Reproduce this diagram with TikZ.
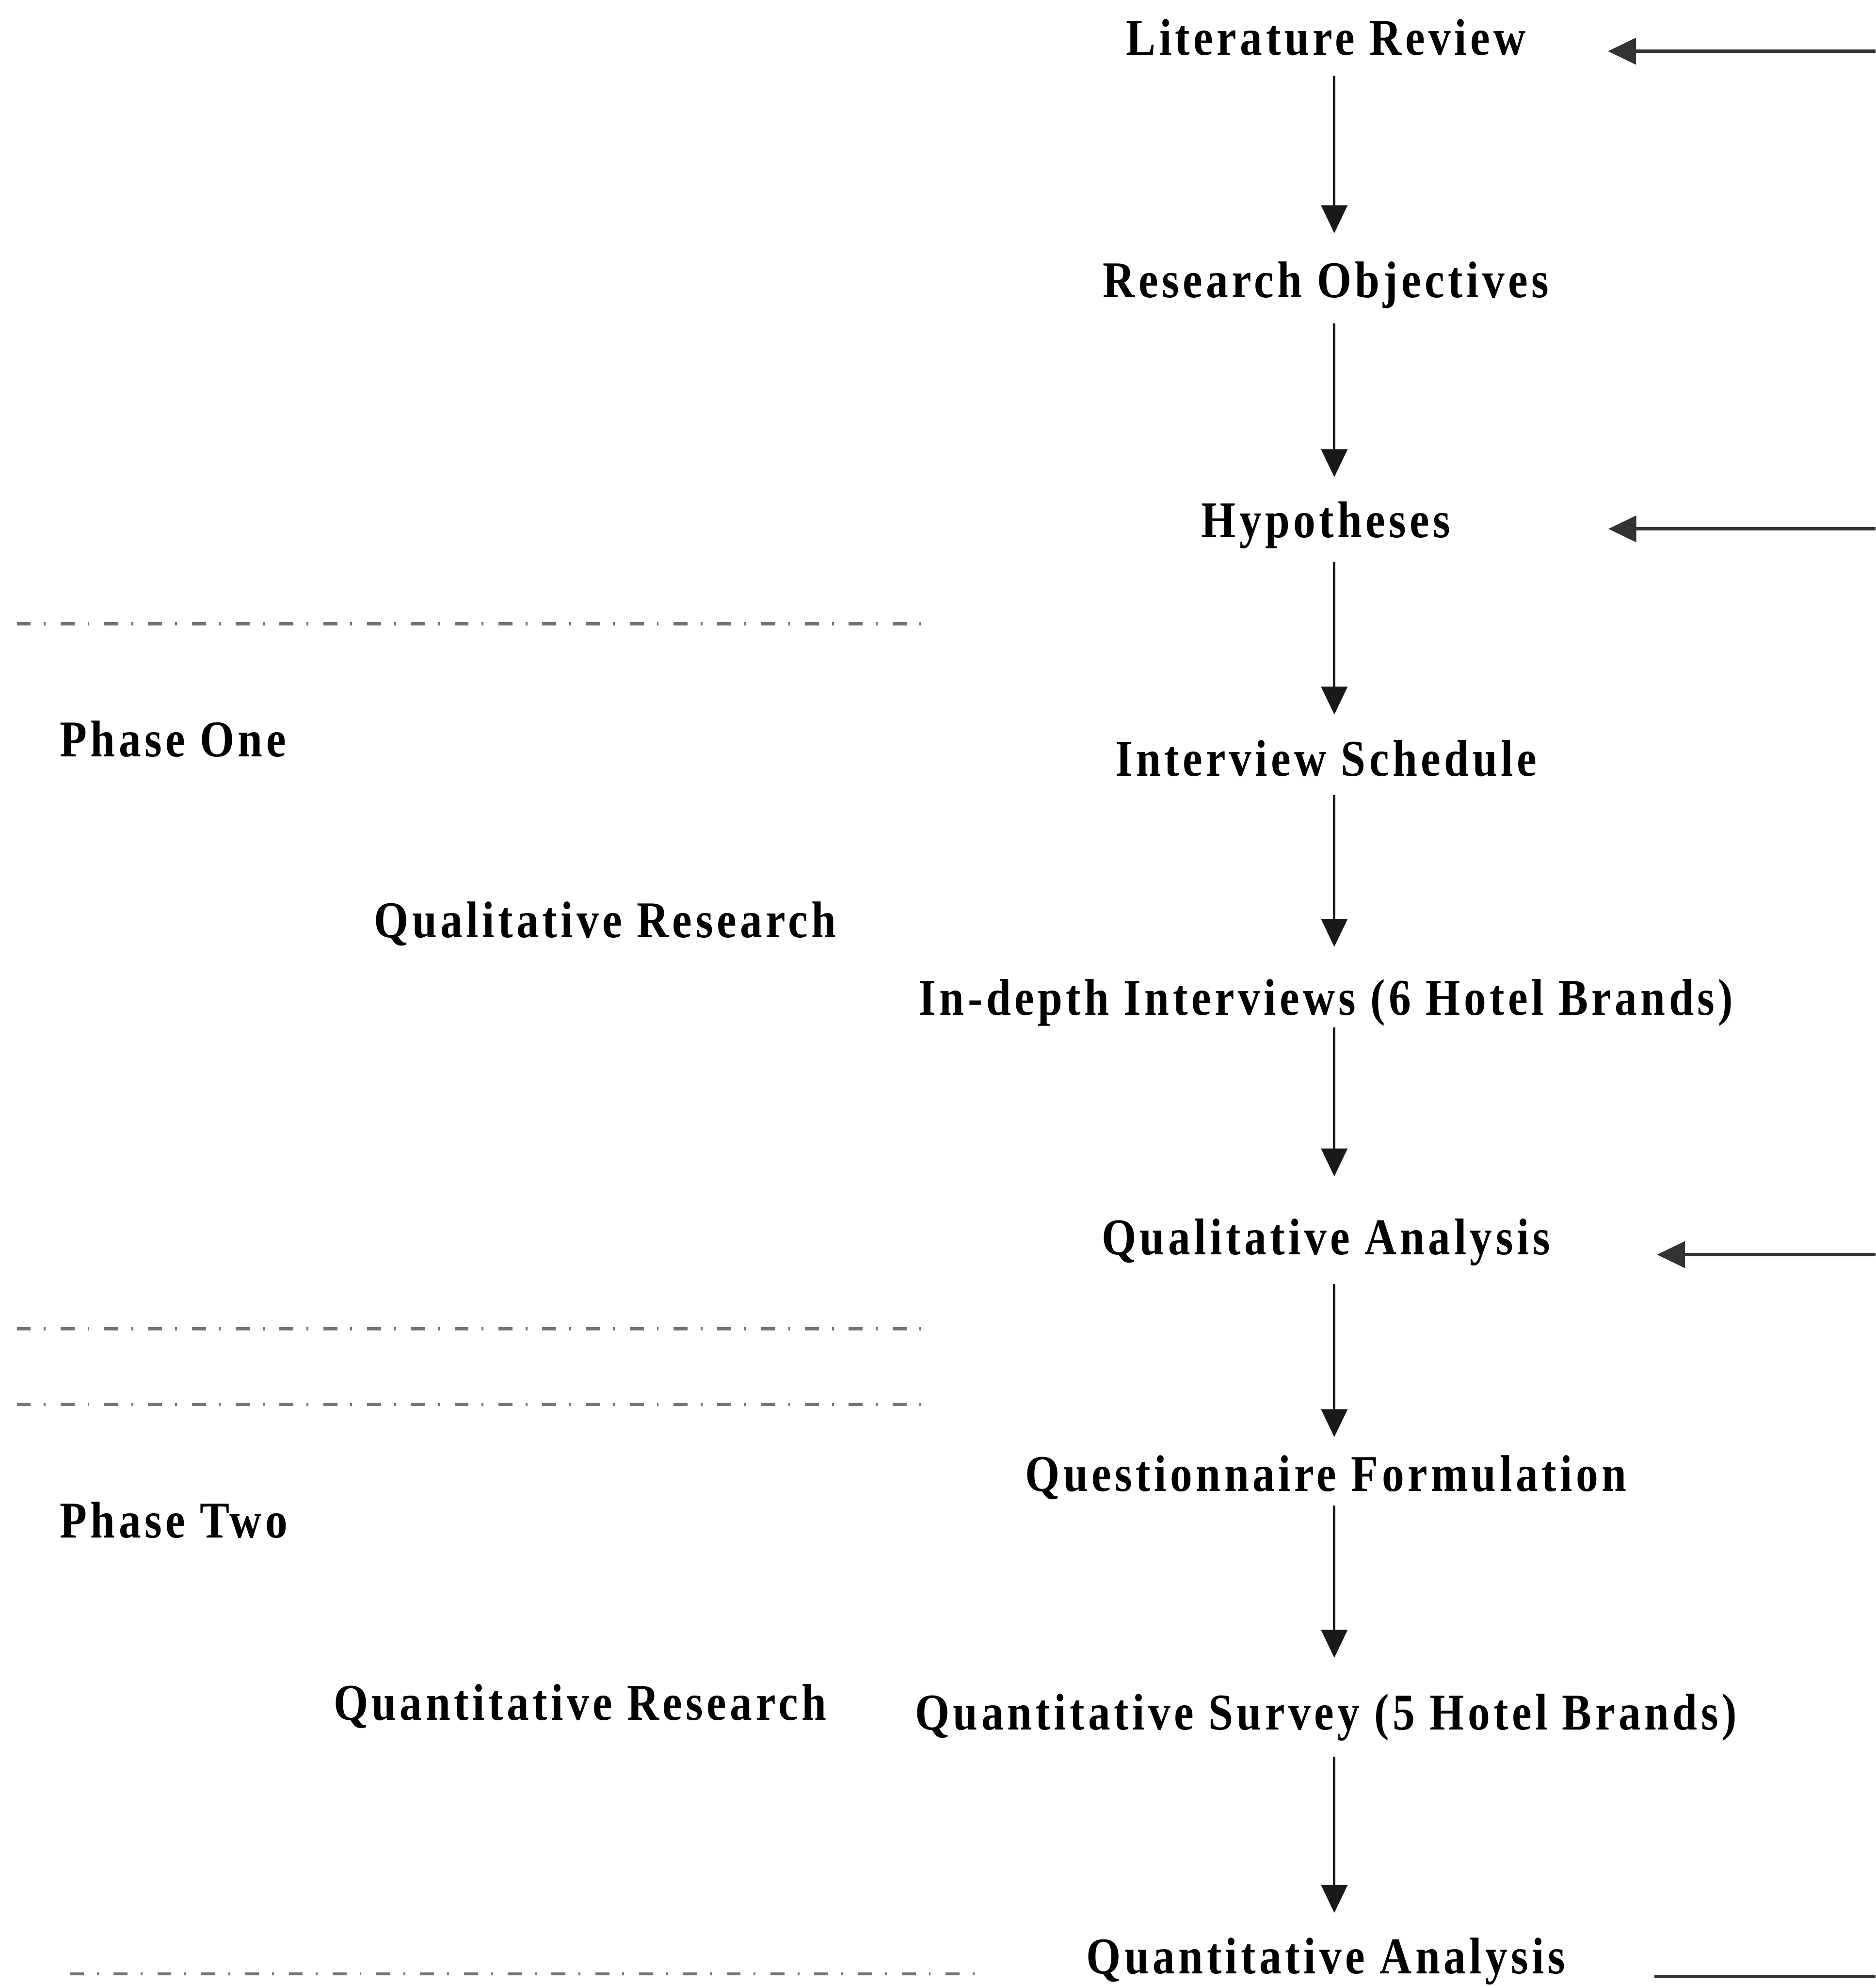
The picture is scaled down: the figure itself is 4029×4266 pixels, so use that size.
\documentclass[tikz,border=0pt]{standalone}
\usepackage{fontspec}
\setmainfont{Liberation Serif}[FakeStretch=0.86, LetterSpace=7]
\usetikzlibrary{arrows.meta}
\begin{document}
\begin{tikzpicture}[x=0.01cm, y=-0.01cm,
  txt/.style={font=\bfseries\fontsize{31.5}{36}\selectfont, inner sep=0pt,
              text height=22pt, text depth=7pt},
  stage/.style={txt, anchor=base},
  sidelabel/.style={txt, anchor=base west},
  tip/.style={-{Triangle[length=0.6cm, width=0.56cm]}},
  flow/.style={tip, draw=black!90, line width=1.4pt},
  feed/.style={draw=black!80, line width=2pt},
  divider/.style={draw=black!55, line width=2pt,
                  dash pattern=on 0.3cm off 0.28cm on 0.04cm off 0.32cm}]

\useasboundingbox (0,0) rectangle (4029,4266);

% main sequence of research stages
\node[stage] (lit)  at (2848,118)  {Literature Review};
\node[stage] (obj)  at (2848,639)  {Research Objectives};
\node[stage] (hyp)  at (2848,1154) {Hypotheses};
\node[stage] (sch)  at (2848,1667) {Interview Schedule};
\node[stage] (idi)  at (2848,2180) {In-depth Interviews (6 Hotel Brands)};
\node[stage] (qla)  at (2848,2695) {Qualitative Analysis};
\node[stage] (qfm)  at (2848,3203) {Questionnaire Formulation};
\node[stage] (qsv)  at (2848,3715) {Quantitative Survey (5 Hotel Brands)};
\node[stage] (qna)  at (2848,4239) {Quantitative Analysis};

% phase labels on the left
\node[sidelabel] (p1)  at (128,1625) {Phase One};
\node[sidelabel] (qlr) at (803,2014) {Qualitative Research};
\node[sidelabel] (p2)  at (128,3303) {Phase Two};
\node[sidelabel] (qnr) at (716,3695) {Quantitative Research};

% vertical axis of the flow arrows
\coordinate (ax) at (2866,0);

\draw[flow, shorten <=0.19cm, shorten >=0.60cm] (lit.south -| ax) -- (obj.north -| ax);
\draw[flow, shorten <=0.30cm, shorten >=0.51cm] (obj.south -| ax) -- (hyp.north -| ax);
\draw[flow, shorten <=0.28cm, shorten >=0.54cm] (hyp.south -| ax) -- (sch.north -| ax);
\draw[flow, shorten <=0.16cm, shorten >=0.68cm] (sch.south -| ax) -- (idi.north -| ax);
\draw[flow, shorten <=0.02cm, shorten >=0.90cm] (idi.south -| ax) -- (qla.north -| ax);
\draw[flow, shorten <=0.38cm, shorten >=0.38cm] (qla.south -| ax) -- (qfm.north -| ax);
\draw[flow, shorten <=0.05cm, shorten >=0.76cm] (qfm.south -| ax) -- (qsv.north -| ax);
\draw[flow, shorten <=0.33cm, shorten >=0.52cm] (qsv.south -| ax) -- (qna.north -| ax);

% feedback lines entering from the right edge
\coordinate (r1) at (4029,110);
\coordinate (r2) at (4029,1136);
\coordinate (r3) at (4029,2695);
\coordinate (r4) at (4029,4246);
\draw[feed, tip, shorten >=1.76cm] (r1) -- (r1 -| lit.east);
\draw[feed, tip, shorten >=3.38cm] (r2) -- (r2 -| hyp.east);
\draw[feed, tip, shorten >=2.29cm] (r3) -- (r3 -| qla.east);
\draw[feed, shorten >=1.90cm] (r4) -- (r4 -| qna.east);

% phase dividers
\coordinate (d1a) at (36,1340);  \coordinate (d1b) at (1994,1340);
\coordinate (d2a) at (36,2854);  \coordinate (d2b) at (1994,2854);
\coordinate (d3a) at (36,3017);  \coordinate (d3b) at (1994,3017);
\coordinate (d4a) at (150,4240); \coordinate (d4b) at (2100,4240);
\draw[divider] (d1a) -- (d1b);
\draw[divider] (d2a) -- (d2b);
\draw[divider] (d3a) -- (d3b);
\draw[divider] (d4a) -- (d4b);
\end{tikzpicture}
\end{document}
